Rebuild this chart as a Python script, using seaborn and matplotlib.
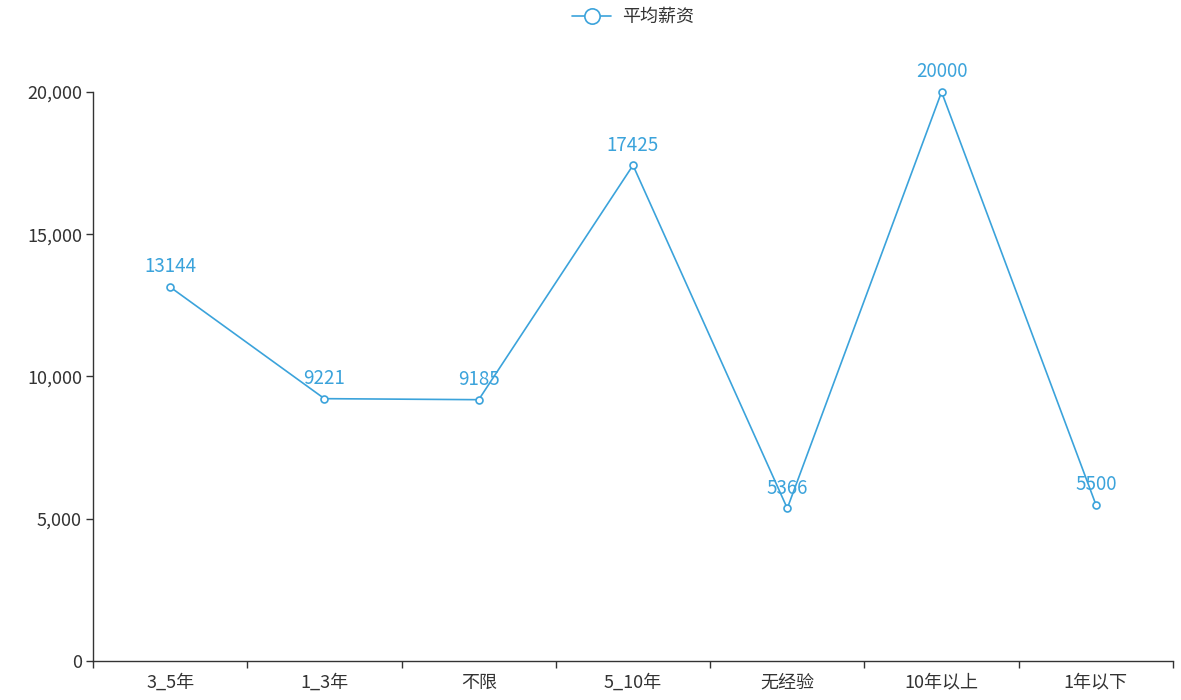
import pandas as pd
import matplotlib
matplotlib.use("Agg")
import matplotlib.pyplot as plt
import matplotlib.ticker as mticker
import seaborn as sns

experience = ["3_5年", "1_3年", "不限", "5_10年", "无经验", "10年以上", "1年以下"]
avg_salary = [13144, 9221, 9185, 17425, 5366, 20000, 5500]
y_ticks = [0, 5000, 10000, 15000, 20000]

df = pd.DataFrame({"经验": experience, "平均薪资": avg_salary})

sns.set_style("white")
plt.rcParams["font.family"] = ["Noto Sans CJK SC", "DejaVu Sans"]

line_color = "#3BA3DB"
axis_color = "#333333"

fig = plt.figure(figsize=(11.81, 7.00), dpi=100)
ax = fig.add_axes([93 / 1181, 1 - 661 / 700, (1173 - 93) / 1181, (661 - 92) / 700])

sns.lineplot(
    data=df,
    x="经验",
    y="平均薪资",
    sort=False,
    ax=ax,
    color=line_color,
    linewidth=1.2,
    marker="o",
    markersize=5,
    markerfacecolor="white",
    markeredgecolor=line_color,
    markeredgewidth=1.2,
    clip_on=False,
    label="平均薪资",
)

for i, v in enumerate(avg_salary):
    ax.annotate(
        str(v),
        (i, v),
        xytext=(0, 7),
        textcoords="offset points",
        ha="center",
        va="bottom",
        color=line_color,
        fontsize=13.5,
    )

ax.set_xlim(-0.5, len(experience) - 0.5)
ax.set_ylim(0, 20000)
ax.set_yticks(y_ticks)
ax.yaxis.set_major_formatter(mticker.FuncFormatter(lambda v, p: f"{int(v):,}"))

ax.set_xticks([i + 0.5 for i in range(-1, len(experience))])
ax.set_xticklabels([])
ax.set_xticks(range(len(experience)), minor=True)
ax.set_xticklabels(experience, minor=True)
ax.tick_params(axis="x", which="minor", bottom=True, length=0, pad=9, labelsize=13, labelcolor=axis_color)
ax.tick_params(axis="x", which="major", bottom=True, length=5, width=1, color=axis_color, direction="out")
ax.tick_params(axis="y", left=True, length=5, width=1, color=axis_color, direction="out",
               labelsize=13, labelcolor=axis_color, pad=3)

ax.set_xlabel("")
ax.set_ylabel("")
ax.spines["top"].set_visible(False)
ax.spines["right"].set_visible(False)
for s in ["left", "bottom"]:
    ax.spines[s].set_color(axis_color)
    ax.spines[s].set_linewidth(1)

ax.get_legend().remove()
handles, labels = ax.get_legend_handles_labels()
fig.legend(
    handles, labels,
    loc="center",
    bbox_to_anchor=(633 / 1181, 1 - 17 / 700),
    frameon=False,
    fontsize=13,
    labelcolor=axis_color,
    markerscale=2.2,
    handlelength=2.2,
    handletextpad=0.6,
)

fig.savefig("out.png", dpi=100)
